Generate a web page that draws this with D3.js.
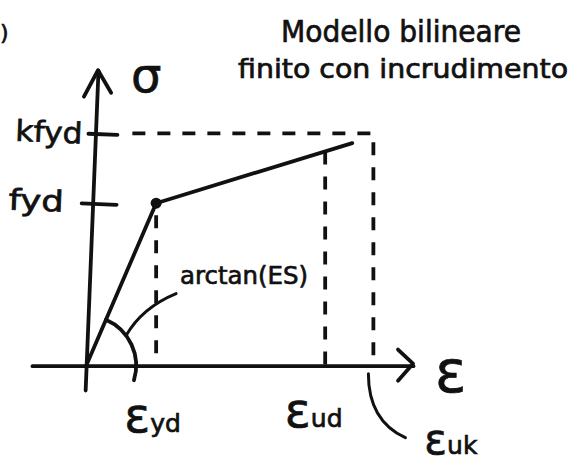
<!DOCTYPE html>
<html>
<head>
<meta charset="utf-8">
<script src="https://cdn.jsdelivr.net/npm/d3@7"></script>
<style>
  html, body { margin: 0; padding: 0; background: #fff; }
  svg { display: block; }
  text { font-family: "DejaVu Sans", sans-serif; fill: #111; stroke: #111; stroke-width: 0.7px; }
</style>
</head>
<body>
<svg id="chart" width="581" height="466"></svg>
<script>
// Bilinear steel model with hardening: stress (sigma) vs strain (epsilon), arbitrary units
const strainLabels = ["yd", "ud", "uk"];          // subscripts of epsilon
const strainValues = [1.06, 3.62, 4.35];           // eps_yd, eps_ud, eps_uk
const stressLabels = ["fyd", "kfyd"];
const stressValues = [1.0, 1.43];                  // fyd, k*fyd
const modelStrain  = [0, 1.06, 4.03];              // branch vertices
const modelStress  = [0, 1.0, 1.37];
const titleLines   = ["Modello bilineare", "finito con incrudimento"];

const ink = "#111";
const lw = 3.8;

const svg = d3.select("#chart");
const width = 581, height = 466;
svg.append("rect").attr("width", width).attr("height", height).attr("fill", "#fff");

const x = d3.scaleLinear().domain([-0.82, 4.95]).range([32, 413]);
const y = d3.scaleLinear().domain([-0.15, 1.82]).range([390, 70]);
const x0 = x(0), y0 = y(0);

// Title (two lines, upper right)
const titleText = svg.append("g");
titleText.append("text").attr("x", 281).attr("y", 42).attr("font-size", 30)
  .attr("textLength", 240).attr("lengthAdjust", "spacingAndGlyphs").text(titleLines[0]);
titleText.append("text").attr("x", 238).attr("y", 78).attr("font-size", 26)
  .attr("textLength", 330).attr("lengthAdjust", "spacingAndGlyphs").text(titleLines[1]);

// Margin mark at the left edge
svg.append("text").attr("x", 0).attr("y", 40).attr("font-size", 22).text(")");

// ---- x axis (strain) ----
const xAxis = d3.axisBottom(x).tickValues(strainValues).tickSize(0).tickSizeOuter(0)
  .tickFormat((d, i) => strainLabels[i]);
const gx = svg.append("g").attr("transform", `translate(0,${y0})`).call(xAxis);
gx.select(".domain").attr("stroke", ink).attr("stroke-width", lw).attr("stroke-linecap", "round");
const xLabelOffsets = [[-4, 66], [-12, 61], [77, 88]];
gx.selectAll(".tick text").each(function(d, i) {
  const t = d3.select(this);
  t.text(null).attr("dy", null).attr("y", xLabelOffsets[i][1]).attr("x", xLabelOffsets[i][0])
    .attr("text-anchor", "middle").attr("fill", ink).attr("font-family", "DejaVu Sans, sans-serif");
  t.append("tspan").attr("font-size", i === 2 ? 42 : 48).text("ε");
  t.append("tspan").attr("font-size", 25).text(strainLabels[i]);
});
// arrow head on strain axis
const xEnd = x.range()[1];
gx.append("path").attr("d", `M${xEnd - 15},-16 L${xEnd},-2 L${xEnd - 15},15`)
  .attr("fill", "none").attr("stroke", ink).attr("stroke-width", lw)
  .attr("stroke-linecap", "round").attr("stroke-linejoin", "round");
svg.append("text").attr("x", 435).attr("y", 392).attr("font-size", 58).text("ε");

// ---- y axis (stress), drawn slightly leaning ----
const yAxis = d3.axisLeft(y).tickValues(stressValues).tickSizeOuter(0)
  .tickFormat((d, i) => stressLabels[i]);
const gy = svg.append("g").attr("transform", `rotate(2.3,${x0},${y0}) translate(${x0},0)`).call(yAxis);
gy.select(".domain").attr("stroke", ink).attr("stroke-width", lw).attr("stroke-linecap", "round");
const yTickSpan = [[-11, 24], [-7, 22]];
const yLabelPos = [[-29, 9, 55], [-13, 10, 67]];
gy.selectAll(".tick line").each(function(d, i) {
  d3.select(this).attr("x1", yTickSpan[i][0]).attr("x2", yTickSpan[i][1])
    .attr("stroke", ink).attr("stroke-width", lw).attr("stroke-linecap", "round");
});
gy.selectAll(".tick text").each(function(d, i) {
  d3.select(this).attr("x", yLabelPos[i][0]).attr("dy", null).attr("y", yLabelPos[i][1])
    .attr("font-size", 29).attr("fill", ink).attr("font-family", "DejaVu Sans, sans-serif")
    .attr("textLength", yLabelPos[i][2]).attr("lengthAdjust", "spacingAndGlyphs");
});
const yTop = y.range()[1];
gy.append("path").attr("d", `M-13,${yTop + 27} L0,${yTop} L14,${yTop + 22}`)
  .attr("fill", "none").attr("stroke", ink).attr("stroke-width", lw)
  .attr("stroke-linecap", "round").attr("stroke-linejoin", "round");
svg.append("text").attr("x", 131).attr("y", 92).attr("font-size", 48).text("σ");

// ---- reference dashed lines ----
const branch = d3.scaleLinear().domain(modelStrain).range(modelStress);
const dashed = (d) => svg.append("path").attr("d", d).attr("fill", "none")
  .attr("stroke", ink).attr("stroke-width", lw).attr("stroke-dasharray", "13,12")
  .attr("stroke-linecap", "butt");
// eps_yd from the yield point down
dashed(`M${x(strainValues[0])},${y(stressValues[0]) + 12} V${y0}`);
// eps_ud from the hardening branch down
dashed(`M${x(strainValues[1])},${y(branch(strainValues[1]))} V${y0}`);
// k*fyd level and eps_uk
dashed(`M${x(0.7)},${y(stressValues[1])} H${x(strainValues[2])} V${y0}`);

// ---- the bilinear law ----
const line = d3.line().x(d => x(d[0])).y(d => y(d[1]));
svg.append("path").datum(d3.zip(modelStrain, modelStress)).attr("d", line)
  .attr("fill", "none").attr("stroke", ink).attr("stroke-width", lw)
  .attr("stroke-linecap", "round").attr("stroke-linejoin", "round");
svg.append("circle").attr("cx", x(modelStrain[1])).attr("cy", y(modelStress[1])).attr("r", 5.5).attr("fill", ink);

// angle arc for the elastic slope
const ang = Math.atan2(y(modelStress[1]) - y0, x(modelStrain[1]) - x0);
const r = 50;
const arc = d3.path();
arc.arc(x0, y0, r, ang, 17 * Math.PI / 180, false);
svg.append("path").attr("d", arc.toString()).attr("fill", "none")
  .attr("stroke", ink).attr("stroke-width", lw).attr("stroke-linecap", "round");
const la = -37 * Math.PI / 180;
const lx = x0 + r * Math.cos(la), ly = y0 + r * Math.sin(la);
svg.append("path").attr("d", `M${lx},${ly} Q${lx + 16},${ly - 28} ${lx + 50},${ly - 42}`)
  .attr("fill", "none").attr("stroke", ink).attr("stroke-width", 3).attr("stroke-linecap", "round");
svg.append("text").attr("x", 180).attr("y", 284).attr("font-size", 25)
  .attr("textLength", 128).attr("lengthAdjust", "spacingAndGlyphs").text("arctan(ES)");

// leader to eps_uk label
const ux = x(strainValues[2]);
svg.append("path").attr("d", `M${ux - 5},${y0 + 8} Q${ux - 5},${y0 + 55} ${ux + 32},${y0 + 72}`)
  .attr("fill", "none").attr("stroke", ink).attr("stroke-width", 3).attr("stroke-linecap", "round");
</script>
</body>
</html>
